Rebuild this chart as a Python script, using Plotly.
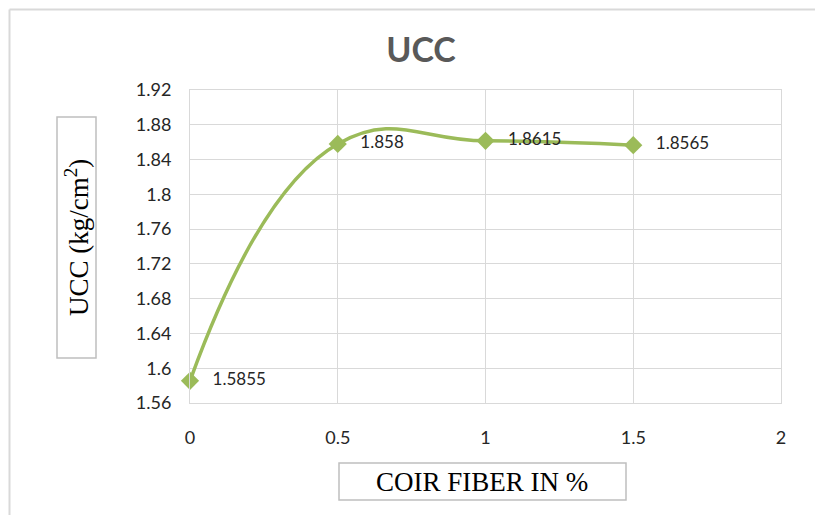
import plotly.graph_objects as go

fiber_pct = [0, 0.5, 1, 1.5]
ucc_values = [1.5855, 1.858, 1.8615, 1.8565]
ucc_labels = ["1.5855", "1.858", "1.8615", "1.8565"]
y_ticks = [1.56, 1.6, 1.64, 1.68, 1.72, 1.76, 1.8, 1.84, 1.88, 1.92]
y_tick_text = ["1.56", "1.6", "1.64", "1.68", "1.72", "1.76", "1.8", "1.84", "1.88", "1.92"]
x_ticks = [0, 0.5, 1, 1.5, 2]
x_tick_text = ["0", "0.5", "1", "1.5", "2"]

OFF = 8  # page body margin
W, H = 823 - 2 * OFF, 523 - 2 * OFF
# plot area bounds in page pixels
L, R, T, B = 190, 781, 90, 403


def px(x):
    return (x - L) / (R - L)


def py(y):
    return (B - y) / (B - T)


GREEN = "#9BBB59"
GRID = "#D9D9D9"
TICKFONT = dict(family="Lato, Open Sans, sans-serif", size=18, color="#262626")

fig = go.Figure()
fig.add_trace(go.Scatter(
    x=fiber_pct, y=ucc_values,
    mode="lines+markers+text",
    line=dict(color=GREEN, width=3.5, shape="spline", smoothing=1.3),
    marker=dict(symbol="diamond", size=14, color=GREEN),
    text=["\u2002 " + t for t in ucc_labels],
    textposition="middle right",
    textfont=dict(family="Lato, Open Sans, sans-serif", size=17, color="#262626"),
    showlegend=False,
    cliponaxis=False,
))

fig.update_layout(
    width=W, height=H,
    margin=dict(l=L - OFF, r=W - (R - OFF), t=T - OFF, b=H - (B - OFF)),
    paper_bgcolor="white",
    plot_bgcolor="white",
    title=dict(
        text="<b>UCC</b>",
        x=(421 - OFF) / W, xanchor="center",
        y=1 - (50 - OFF) / H, yanchor="middle",
        font=dict(family="Lato, Open Sans, sans-serif", size=34, color="#595959"),
    ),
    xaxis=dict(
        range=[0, 2], tickvals=x_ticks, ticktext=x_tick_text,
        showgrid=True, gridcolor=GRID, gridwidth=1,
        showline=True, linecolor=GRID, linewidth=1, mirror=True,
        zeroline=False, ticks="", tickfont=TICKFONT, ticklabelstandoff=18,
    ),
    yaxis=dict(
        range=[1.56, 1.92], tickvals=y_ticks, ticktext=y_tick_text,
        showgrid=True, gridcolor=GRID, gridwidth=1,
        showline=True, linecolor=GRID, linewidth=1, mirror=True,
        zeroline=False, ticks="", tickfont=TICKFONT, ticklabelstandoff=14,
    ),
    shapes=[
        # chart outer border (left & top edges visible)
        dict(type="line", xref="paper", yref="paper",
             x0=px(9.5), x1=px(9.5), y0=py(523), y1=py(9.5),
             line=dict(color=GRID, width=2), layer="below"),
        dict(type="line", xref="paper", yref="paper",
             x0=px(9.5), x1=px(823), y0=py(9.5), y1=py(9.5),
             line=dict(color=GRID, width=2), layer="below"),
        # y-axis title box
        dict(type="rect", xref="paper", yref="paper",
             x0=px(57), x1=px(96), y0=py(358), y1=py(117),
             line=dict(color="#BFBFBF", width=1.5), fillcolor="white"),
        # x-axis title box
        dict(type="rect", xref="paper", yref="paper",
             x0=px(339), x1=px(626), y0=py(500), y1=py(463),
             line=dict(color="#BFBFBF", width=1.5), fillcolor="white"),
    ],
    annotations=[
        dict(text="UCC (kg/cm<sup>2</sup>)", xref="paper", yref="paper",
             x=px(77), y=py(238), xanchor="center", yanchor="middle",
             textangle=-90, showarrow=False,
             font=dict(family="Liberation Serif, Times New Roman, serif", size=27, color="#000000")),
        dict(text="COIR FIBER IN %", xref="paper", yref="paper",
             x=px(482), y=py(482), xanchor="center", yanchor="middle",
             showarrow=False,
             font=dict(family="Liberation Serif, Times New Roman, serif", size=27, color="#000000")),
    ],
)

fig.write_html("out.html")
